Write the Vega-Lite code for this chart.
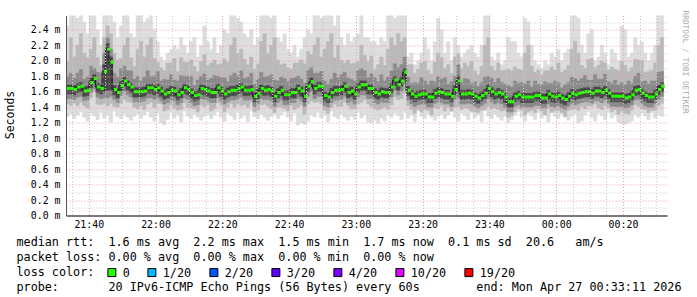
{
"$schema":"https://vega.github.io/schema/vega-lite/v6.json",
"width":601,"height":200,
"autosize":{"type":"none"},
"padding":{"left":66,"top":15.5,"right":30,"bottom":81.5},
"background":"#ffffff",
"config":{"view":{"stroke":null},"font":"DejaVu Sans Mono"},
"title":{"text":"RRDTOOL / TOBI OETIKER","orient":"right","anchor":"start","frame":"group","offset":4,"dx":-5,"dy":3.5,"font":"DejaVu Sans Mono","fontSize":7.8,"fontWeight":"normal","color":"#a8a8a8"},
"layer":[
{"data":{"name":"smoke","format":{"parse":{"t":"utc:'%d %H:%M'"}},"values":[
{"t":"26 21:33","m":1.64,"a":1.28,"A":2.45,"b":1.44,"B":1.99,"c":1.51,"C":1.8,"d":1.57,"D":1.69},
{"t":"26 21:34","m":1.64,"a":1.31,"A":2.6,"b":1.42,"B":2.3,"c":1.51,"C":1.84,"d":1.57,"D":1.69},
{"t":"26 21:35","m":1.63,"a":1.25,"A":2.6,"b":1.45,"B":2.05,"c":1.5,"C":1.77,"d":1.56,"D":1.68},
{"t":"26 21:36","m":1.66,"a":1.3,"A":2.55,"b":1.42,"B":2.2,"c":1.53,"C":1.84,"d":1.59,"D":1.71},
{"t":"26 21:37","m":1.67,"a":1.34,"A":2.6,"b":1.46,"B":2.35,"c":1.54,"C":1.89,"d":1.6,"D":1.72},
{"t":"26 21:38","m":1.61,"a":1.27,"A":2.5,"b":1.42,"B":2.1,"c":1.48,"C":1.76,"d":1.54,"D":1.66},
{"t":"26 21:39","m":1.62,"a":1.22,"A":2.35,"b":1.39,"B":2.04,"c":1.49,"C":1.79,"d":1.55,"D":1.67},
{"t":"26 21:40","m":1.72,"a":1.32,"A":2.6,"b":1.52,"B":2.15,"c":1.59,"C":1.93,"d":1.65,"D":1.77},
{"t":"26 21:41","m":1.77,"a":1.29,"A":2.6,"b":1.6,"B":2.3,"c":1.64,"C":1.9,"d":1.7,"D":1.82},
{"t":"26 21:42","m":1.66,"a":1.24,"A":2.4,"b":1.44,"B":2.04,"c":1.53,"C":1.85,"d":1.59,"D":1.71},
{"t":"26 21:43","m":1.64,"a":1.33,"A":2.2,"b":1.43,"B":1.94,"c":1.51,"C":1.84,"d":1.57,"D":1.69},
{"t":"26 21:44","m":1.86,"a":1.26,"A":2.6,"b":1.45,"B":2.3,"c":1.52,"C":2.1,"d":1.6,"D":1.95},
{"t":"26 21:45","m":2.15,"a":1.3,"A":2.6,"b":1.42,"B":2.45,"c":1.52,"C":2.3,"d":1.62,"D":2.22},
{"t":"26 21:46","m":1.98,"a":1.21,"A":2.6,"b":1.45,"B":2.35,"c":1.54,"C":2.15,"d":1.62,"D":2.05},
{"t":"26 21:47","m":1.63,"a":1.35,"A":2.5,"b":1.41,"B":2.1,"c":1.5,"C":1.84,"d":1.56,"D":1.68},
{"t":"26 21:48","m":1.59,"a":1.28,"A":2.3,"b":1.4,"B":2.01,"c":1.46,"C":1.79,"d":1.52,"D":1.64},
{"t":"26 21:49","m":1.68,"a":1.25,"A":2.45,"b":1.45,"B":2.03,"c":1.55,"C":1.9,"d":1.61,"D":1.73},
{"t":"26 21:50","m":1.74,"a":1.31,"A":2.6,"b":1.5,"B":2.2,"c":1.61,"C":1.93,"d":1.67,"D":1.79},
{"t":"26 21:51","m":1.69,"a":1.27,"A":2.6,"b":1.47,"B":2.3,"c":1.56,"C":1.87,"d":1.62,"D":1.74},
{"t":"26 21:52","m":1.66,"a":1.23,"A":2.35,"b":1.46,"B":2.04,"c":1.53,"C":1.87,"d":1.59,"D":1.71},
{"t":"26 21:53","m":1.6,"a":1.28,"A":2.3,"b":1.4,"B":1.93,"c":1.47,"C":1.76,"d":1.53,"D":1.65},
{"t":"26 21:54","m":1.6,"a":1.31,"A":2.6,"b":1.38,"B":2.15,"c":1.47,"C":1.8,"d":1.53,"D":1.65},
{"t":"26 21:55","m":1.6,"a":1.25,"A":2.6,"b":1.42,"B":2.25,"c":1.47,"C":1.74,"d":1.53,"D":1.65},
{"t":"26 21:56","m":1.61,"a":1.3,"A":2.5,"b":1.37,"B":2.05,"c":1.48,"C":1.79,"d":1.54,"D":1.66},
{"t":"26 21:57","m":1.65,"a":1.34,"A":2.55,"b":1.44,"B":2.2,"c":1.52,"C":1.87,"d":1.58,"D":1.7},
{"t":"26 21:58","m":1.65,"a":1.27,"A":2.6,"b":1.46,"B":2.3,"c":1.52,"C":1.8,"d":1.58,"D":1.7},
{"t":"26 21:59","m":1.63,"a":1.22,"A":2.4,"b":1.4,"B":2.03,"c":1.5,"C":1.8,"d":1.56,"D":1.68},
{"t":"26 22:00","m":1.65,"a":1.32,"A":2.25,"b":1.45,"B":1.98,"c":1.52,"C":1.86,"d":1.58,"D":1.7},
{"t":"26 22:01","m":1.61,"a":1.2,"A":2.05,"b":1.44,"B":1.91,"c":1.48,"C":1.74,"d":1.54,"D":1.66},
{"t":"26 22:02","m":1.57,"a":1.17,"A":2.0,"b":1.35,"B":1.87,"c":1.44,"C":1.76,"d":1.5,"D":1.62},
{"t":"26 22:03","m":1.59,"a":1.24,"A":2.1,"b":1.37,"B":1.97,"c":1.46,"C":1.75,"d":1.52,"D":1.64},
{"t":"26 22:04","m":1.62,"a":1.33,"A":2.15,"b":1.43,"B":1.97,"c":1.49,"C":1.82,"d":1.55,"D":1.67},
{"t":"26 22:05","m":1.61,"a":1.26,"A":2.2,"b":1.39,"B":2.03,"c":1.48,"C":1.75,"d":1.54,"D":1.66},
{"t":"26 22:06","m":1.56,"a":1.3,"A":2.15,"b":1.36,"B":1.86,"c":1.43,"C":1.74,"d":1.49,"D":1.61},
{"t":"26 22:07","m":1.59,"a":1.21,"A":2.3,"b":1.37,"B":2.04,"c":1.46,"C":1.81,"d":1.52,"D":1.64},
{"t":"26 22:08","m":1.65,"a":1.35,"A":2.2,"b":1.46,"B":1.98,"c":1.52,"C":1.8,"d":1.58,"D":1.7},
{"t":"26 22:09","m":1.63,"a":1.28,"A":2.1,"b":1.4,"B":1.98,"c":1.5,"C":1.8,"d":1.56,"D":1.68},
{"t":"26 22:10","m":1.59,"a":1.25,"A":2.25,"b":1.39,"B":2.01,"c":1.46,"C":1.8,"d":1.52,"D":1.64},
{"t":"26 22:11","m":1.55,"a":1.31,"A":2.3,"b":1.38,"B":1.93,"c":1.42,"C":1.68,"d":1.48,"D":1.6},
{"t":"26 22:12","m":1.56,"a":1.27,"A":2.05,"b":1.34,"B":1.86,"c":1.43,"C":1.75,"d":1.49,"D":1.61},
{"t":"26 22:13","m":1.64,"a":1.23,"A":2.2,"b":1.43,"B":1.99,"c":1.51,"C":1.8,"d":1.57,"D":1.69},
{"t":"26 22:14","m":1.63,"a":1.28,"A":2.45,"b":1.41,"B":2.08,"c":1.5,"C":1.83,"d":1.56,"D":1.68},
{"t":"26 22:15","m":1.61,"a":1.31,"A":2.25,"b":1.43,"B":1.94,"c":1.48,"C":1.75,"d":1.54,"D":1.66},
{"t":"26 22:16","m":1.59,"a":1.25,"A":2.15,"b":1.35,"B":1.97,"c":1.46,"C":1.77,"d":1.52,"D":1.64},
{"t":"26 22:17","m":1.59,"a":1.3,"A":2.3,"b":1.38,"B":2.01,"c":1.46,"C":1.81,"d":1.52,"D":1.64},
{"t":"26 22:18","m":1.65,"a":1.34,"A":2.1,"b":1.46,"B":1.95,"c":1.52,"C":1.8,"d":1.58,"D":1.7},
{"t":"26 22:19","m":1.61,"a":1.27,"A":2.2,"b":1.42,"B":1.96,"c":1.48,"C":1.78,"d":1.54,"D":1.66},
{"t":"26 22:20","m":1.57,"a":1.22,"A":2.4,"b":1.34,"B":2.02,"c":1.44,"C":1.78,"d":1.5,"D":1.62},
{"t":"26 22:21","m":1.6,"a":1.32,"A":2.35,"b":1.4,"B":1.98,"c":1.47,"C":1.73,"d":1.53,"D":1.65},
{"t":"26 22:22","m":1.62,"a":1.29,"A":2.6,"b":1.45,"B":2.2,"c":1.49,"C":1.81,"d":1.55,"D":1.67},
{"t":"26 22:23","m":1.62,"a":1.24,"A":2.6,"b":1.4,"B":2.3,"c":1.49,"C":1.84,"d":1.55,"D":1.67},
{"t":"26 22:24","m":1.64,"a":1.33,"A":2.55,"b":1.44,"B":2.1,"c":1.51,"C":1.8,"d":1.57,"D":1.69},
{"t":"26 22:25","m":1.66,"a":1.26,"A":2.5,"b":1.42,"B":2.15,"c":1.53,"C":1.87,"d":1.59,"D":1.71},
{"t":"26 22:26","m":1.62,"a":1.3,"A":2.35,"b":1.43,"B":2.02,"c":1.49,"C":1.77,"d":1.55,"D":1.67},
{"t":"26 22:27","m":1.62,"a":1.21,"A":2.3,"b":1.4,"B":1.95,"c":1.49,"C":1.79,"d":1.55,"D":1.67},
{"t":"26 22:28","m":1.63,"a":1.35,"A":2.4,"b":1.46,"B":2.05,"c":1.5,"C":1.84,"d":1.56,"D":1.68},
{"t":"26 22:29","m":1.54,"a":1.28,"A":2.2,"b":1.34,"B":1.89,"c":1.41,"C":1.7,"d":1.47,"D":1.59},
{"t":"26 22:30","m":1.58,"a":1.25,"A":2.3,"b":1.36,"B":1.96,"c":1.45,"C":1.76,"d":1.51,"D":1.63},
{"t":"26 22:31","m":1.64,"a":1.31,"A":2.6,"b":1.43,"B":2.25,"c":1.51,"C":1.85,"d":1.57,"D":1.69},
{"t":"26 22:32","m":1.62,"a":1.27,"A":2.6,"b":1.44,"B":2.35,"c":1.49,"C":1.79,"d":1.55,"D":1.67},
{"t":"26 22:33","m":1.63,"a":1.23,"A":2.6,"b":1.41,"B":2.1,"c":1.5,"C":1.8,"d":1.56,"D":1.68},
{"t":"26 22:34","m":1.61,"a":1.28,"A":2.55,"b":1.38,"B":2.2,"c":1.48,"C":1.82,"d":1.54,"D":1.66},
{"t":"26 22:35","m":1.54,"a":1.31,"A":2.6,"b":1.33,"B":2.3,"c":1.41,"C":1.75,"d":1.47,"D":1.59},
{"t":"26 22:36","m":1.59,"a":1.25,"A":2.3,"b":1.4,"B":2.01,"c":1.46,"C":1.74,"d":1.52,"D":1.64},
{"t":"26 22:37","m":1.62,"a":1.3,"A":2.25,"b":1.4,"B":1.95,"c":1.49,"C":1.79,"d":1.55,"D":1.67},
{"t":"26 22:38","m":1.56,"a":1.34,"A":2.35,"b":1.38,"B":1.96,"c":1.43,"C":1.77,"d":1.49,"D":1.61},
{"t":"26 22:39","m":1.56,"a":1.27,"A":2.15,"b":1.35,"B":1.91,"c":1.43,"C":1.73,"d":1.49,"D":1.61},
{"t":"26 22:40","m":1.59,"a":1.22,"A":2.1,"b":1.42,"B":1.89,"c":1.46,"C":1.77,"d":1.52,"D":1.64},
{"t":"26 22:41","m":1.59,"a":1.32,"A":2.2,"b":1.37,"B":1.97,"c":1.46,"C":1.78,"d":1.52,"D":1.64},
{"t":"26 22:42","m":1.64,"a":1.17,"A":2.05,"b":1.4,"B":1.97,"c":1.51,"C":1.8,"d":1.57,"D":1.69},
{"t":"26 22:43","m":1.61,"a":1.2,"A":2.15,"b":1.43,"B":2.01,"c":1.48,"C":1.76,"d":1.54,"D":1.66},
{"t":"26 22:44","m":1.54,"a":1.18,"A":2.3,"b":1.31,"B":1.96,"c":1.41,"C":1.71,"d":1.47,"D":1.59},
{"t":"26 22:45","m":1.67,"a":1.22,"A":2.4,"b":1.44,"B":2.12,"c":1.54,"C":1.88,"d":1.6,"D":1.72},
{"t":"26 22:46","m":1.73,"a":1.3,"A":2.35,"b":1.48,"B":2.08,"c":1.6,"C":1.91,"d":1.66,"D":1.78},
{"t":"26 22:47","m":1.64,"a":1.27,"A":2.6,"b":1.46,"B":2.2,"c":1.51,"C":1.84,"d":1.57,"D":1.69},
{"t":"26 22:48","m":1.67,"a":1.33,"A":2.6,"b":1.47,"B":2.3,"c":1.54,"C":1.84,"d":1.6,"D":1.72},
{"t":"26 22:49","m":1.67,"a":1.26,"A":2.55,"b":1.45,"B":2.05,"c":1.54,"C":1.86,"d":1.6,"D":1.72},
{"t":"26 22:50","m":1.55,"a":1.3,"A":2.6,"b":1.36,"B":2.15,"c":1.42,"C":1.74,"d":1.48,"D":1.6},
{"t":"26 22:51","m":1.53,"a":1.21,"A":2.6,"b":1.32,"B":2.25,"c":1.4,"C":1.7,"d":1.46,"D":1.58},
{"t":"26 22:52","m":1.59,"a":1.35,"A":2.6,"b":1.4,"B":2.35,"c":1.46,"C":1.76,"d":1.52,"D":1.64},
{"t":"26 22:53","m":1.62,"a":1.28,"A":2.45,"b":1.44,"B":2.04,"c":1.49,"C":1.84,"d":1.55,"D":1.67},
{"t":"26 22:54","m":1.62,"a":1.25,"A":2.6,"b":1.41,"B":2.2,"c":1.49,"C":1.78,"d":1.55,"D":1.67},
{"t":"26 22:55","m":1.63,"a":1.31,"A":2.3,"b":1.41,"B":2.01,"c":1.5,"C":1.82,"d":1.56,"D":1.68},
{"t":"26 22:56","m":1.67,"a":1.27,"A":2.2,"b":1.47,"B":1.97,"c":1.54,"C":1.85,"d":1.6,"D":1.72},
{"t":"26 22:57","m":1.59,"a":1.23,"A":2.35,"b":1.42,"B":2.01,"c":1.46,"C":1.78,"d":1.52,"D":1.64},
{"t":"26 22:58","m":1.61,"a":1.28,"A":2.25,"b":1.38,"B":1.96,"c":1.48,"C":1.76,"d":1.54,"D":1.66},
{"t":"26 22:59","m":1.57,"a":1.24,"A":2.3,"b":1.38,"B":1.97,"c":1.44,"C":1.74,"d":1.5,"D":1.62},
{"t":"26 23:00","m":1.66,"a":1.33,"A":2.35,"b":1.44,"B":1.99,"c":1.53,"C":1.87,"d":1.59,"D":1.71},
{"t":"26 23:01","m":1.69,"a":1.26,"A":2.6,"b":1.46,"B":2.2,"c":1.56,"C":1.9,"d":1.62,"D":1.74},
{"t":"26 23:02","m":1.69,"a":1.3,"A":2.3,"b":1.5,"B":2.07,"c":1.56,"C":1.87,"d":1.62,"D":1.74},
{"t":"26 23:03","m":1.64,"a":1.21,"A":2.3,"b":1.44,"B":1.99,"c":1.51,"C":1.78,"d":1.57,"D":1.69},
{"t":"26 23:04","m":1.64,"a":1.2,"A":2.25,"b":1.41,"B":2.06,"c":1.51,"C":1.83,"d":1.57,"D":1.69},
{"t":"26 23:05","m":1.59,"a":1.23,"A":2.25,"b":1.38,"B":1.89,"c":1.46,"C":1.78,"d":1.52,"D":1.64},
{"t":"26 23:06","m":1.57,"a":1.19,"A":2.2,"b":1.36,"B":1.95,"c":1.44,"C":1.73,"d":1.5,"D":1.62},
{"t":"26 23:07","m":1.6,"a":1.25,"A":2.3,"b":1.38,"B":2.05,"c":1.47,"C":1.82,"d":1.53,"D":1.65},
{"t":"26 23:08","m":1.59,"a":1.22,"A":2.25,"b":1.4,"B":1.94,"c":1.46,"C":1.74,"d":1.52,"D":1.64},
{"t":"26 23:09","m":1.59,"a":1.3,"A":2.6,"b":1.37,"B":2.15,"c":1.46,"C":1.79,"d":1.52,"D":1.64},
{"t":"26 23:10","m":1.66,"a":1.27,"A":2.6,"b":1.43,"B":2.3,"c":1.53,"C":1.87,"d":1.59,"D":1.71},
{"t":"26 23:11","m":1.75,"a":1.32,"A":2.55,"b":1.53,"B":2.2,"c":1.62,"C":1.96,"d":1.68,"D":1.8},
{"t":"26 23:12","m":1.69,"a":1.29,"A":2.6,"b":1.5,"B":2.35,"c":1.56,"C":1.91,"d":1.62,"D":1.74},
{"t":"26 23:13","m":1.74,"a":1.24,"A":2.6,"b":1.51,"B":2.25,"c":1.61,"C":1.95,"d":1.67,"D":1.79},
{"t":"26 23:14","m":1.85,"a":1.33,"A":2.6,"b":1.58,"B":2.3,"c":1.7,"C":2.05,"d":1.76,"D":1.9},
{"t":"26 23:15","m":1.62,"a":1.26,"A":2.05,"b":1.42,"B":1.95,"c":1.49,"C":1.79,"d":1.55,"D":1.67},
{"t":"26 23:16","m":1.57,"a":1.3,"A":2.1,"b":1.37,"B":1.95,"c":1.44,"C":1.71,"d":1.5,"D":1.62},
{"t":"26 23:17","m":1.54,"a":1.21,"A":1.95,"b":1.32,"B":1.84,"c":1.41,"C":1.72,"d":1.47,"D":1.59},
{"t":"26 23:18","m":1.56,"a":1.35,"A":2.0,"b":1.37,"B":1.89,"c":1.43,"C":1.71,"d":1.49,"D":1.61},
{"t":"26 23:19","m":1.57,"a":1.28,"A":2.1,"b":1.34,"B":1.97,"c":1.44,"C":1.78,"d":1.5,"D":1.62},
{"t":"26 23:20","m":1.57,"a":1.25,"A":2.3,"b":1.37,"B":1.99,"c":1.44,"C":1.74,"d":1.5,"D":1.62},
{"t":"26 23:21","m":1.53,"a":1.31,"A":2.15,"b":1.36,"B":1.88,"c":1.4,"C":1.7,"d":1.46,"D":1.58},
{"t":"26 23:22","m":1.53,"a":1.27,"A":2.0,"b":1.3,"B":1.83,"c":1.4,"C":1.74,"d":1.46,"D":1.58},
{"t":"26 23:23","m":1.58,"a":1.23,"A":2.25,"b":1.39,"B":1.98,"c":1.45,"C":1.73,"d":1.51,"D":1.63},
{"t":"26 23:24","m":1.6,"a":1.28,"A":2.55,"b":1.38,"B":2.1,"c":1.47,"C":1.8,"d":1.53,"D":1.65},
{"t":"26 23:25","m":1.59,"a":1.31,"A":2.4,"b":1.42,"B":2.04,"c":1.46,"C":1.76,"d":1.52,"D":1.64},
{"t":"26 23:26","m":1.57,"a":1.25,"A":2.1,"b":1.35,"B":1.9,"c":1.44,"C":1.78,"d":1.5,"D":1.62},
{"t":"26 23:27","m":1.57,"a":1.3,"A":2.25,"b":1.4,"B":1.95,"c":1.44,"C":1.7,"d":1.5,"D":1.62},
{"t":"26 23:28","m":1.54,"a":1.34,"A":2.0,"b":1.35,"B":1.84,"c":1.41,"C":1.73,"d":1.47,"D":1.59},
{"t":"26 23:29","m":1.63,"a":1.27,"A":2.3,"b":1.4,"B":2.05,"c":1.5,"C":1.8,"d":1.56,"D":1.68},
{"t":"26 23:30","m":1.74,"a":1.22,"A":2.2,"b":1.41,"B":2.09,"c":1.52,"C":1.95,"d":1.6,"D":1.8},
{"t":"26 23:31","m":1.57,"a":1.32,"A":2.05,"b":1.37,"B":1.9,"c":1.44,"C":1.72,"d":1.5,"D":1.62},
{"t":"26 23:32","m":1.57,"a":1.29,"A":2.1,"b":1.39,"B":1.97,"c":1.44,"C":1.77,"d":1.5,"D":1.62},
{"t":"26 23:33","m":1.58,"a":1.24,"A":2.15,"b":1.38,"B":1.93,"c":1.45,"C":1.76,"d":1.51,"D":1.63},
{"t":"26 23:34","m":1.57,"a":1.33,"A":2.2,"b":1.35,"B":1.99,"c":1.44,"C":1.71,"d":1.5,"D":1.62},
{"t":"26 23:35","m":1.54,"a":1.26,"A":2.1,"b":1.34,"B":1.87,"c":1.41,"C":1.73,"d":1.47,"D":1.59},
{"t":"26 23:36","m":1.52,"a":1.3,"A":2.05,"b":1.33,"B":1.82,"c":1.39,"C":1.67,"d":1.45,"D":1.57},
{"t":"26 23:37","m":1.55,"a":1.21,"A":2.2,"b":1.36,"B":1.93,"c":1.42,"C":1.72,"d":1.48,"D":1.6},
{"t":"26 23:38","m":1.58,"a":1.35,"A":2.6,"b":1.37,"B":2.2,"c":1.45,"C":1.79,"d":1.51,"D":1.63},
{"t":"26 23:39","m":1.64,"a":1.28,"A":2.6,"b":1.41,"B":2.3,"c":1.51,"C":1.8,"d":1.57,"D":1.69},
{"t":"26 23:40","m":1.6,"a":1.25,"A":2.05,"b":1.38,"B":1.93,"c":1.47,"C":1.77,"d":1.53,"D":1.65},
{"t":"26 23:41","m":1.57,"a":1.31,"A":2.0,"b":1.39,"B":1.87,"c":1.44,"C":1.72,"d":1.5,"D":1.62},
{"t":"26 23:42","m":1.59,"a":1.27,"A":2.1,"b":1.37,"B":1.97,"c":1.46,"C":1.77,"d":1.52,"D":1.64},
{"t":"26 23:43","m":1.57,"a":1.23,"A":1.95,"b":1.35,"B":1.87,"c":1.44,"C":1.72,"d":1.5,"D":1.62},
{"t":"26 23:44","m":1.53,"a":1.28,"A":2.0,"b":1.36,"B":1.88,"c":1.4,"C":1.7,"d":1.46,"D":1.58},
{"t":"26 23:45","m":1.47,"a":1.2,"A":2.3,"b":1.27,"B":1.89,"c":1.34,"C":1.68,"d":1.4,"D":1.52},
{"t":"26 23:46","m":1.47,"a":1.24,"A":2.25,"b":1.29,"B":1.87,"c":1.34,"C":1.66,"d":1.4,"D":1.52},
{"t":"26 23:47","m":1.54,"a":1.3,"A":2.25,"b":1.34,"B":1.92,"c":1.41,"C":1.74,"d":1.47,"D":1.59},
{"t":"26 23:48","m":1.56,"a":1.34,"A":2.1,"b":1.38,"B":1.89,"c":1.43,"C":1.71,"d":1.49,"D":1.61},
{"t":"26 23:49","m":1.53,"a":1.27,"A":2.05,"b":1.36,"B":1.88,"c":1.4,"C":1.72,"d":1.46,"D":1.58},
{"t":"26 23:50","m":1.53,"a":1.22,"A":2.55,"b":1.3,"B":2.1,"c":1.4,"C":1.7,"d":1.46,"D":1.58},
{"t":"26 23:51","m":1.53,"a":1.32,"A":2.5,"b":1.34,"B":2.2,"c":1.4,"C":1.74,"d":1.46,"D":1.58},
{"t":"26 23:52","m":1.53,"a":1.29,"A":2.2,"b":1.36,"B":1.93,"c":1.4,"C":1.66,"d":1.46,"D":1.58},
{"t":"26 23:53","m":1.55,"a":1.24,"A":2.0,"b":1.33,"B":1.85,"c":1.42,"C":1.74,"d":1.48,"D":1.6},
{"t":"26 23:54","m":1.55,"a":1.33,"A":1.95,"b":1.38,"B":1.88,"c":1.42,"C":1.7,"d":1.48,"D":1.6},
{"t":"26 23:55","m":1.52,"a":1.26,"A":1.9,"b":1.35,"B":1.82,"c":1.39,"C":1.69,"d":1.45,"D":1.57},
{"t":"26 23:56","m":1.52,"a":1.3,"A":2.0,"b":1.3,"B":1.87,"c":1.39,"C":1.73,"d":1.45,"D":1.57},
{"t":"26 23:57","m":1.57,"a":1.21,"A":1.95,"b":1.38,"B":1.87,"c":1.44,"C":1.71,"d":1.5,"D":1.62},
{"t":"26 23:58","m":1.54,"a":1.35,"A":2.1,"b":1.33,"B":1.92,"c":1.41,"C":1.71,"d":1.47,"D":1.59},
{"t":"26 23:59","m":1.53,"a":1.28,"A":2.05,"b":1.35,"B":1.88,"c":1.4,"C":1.74,"d":1.46,"D":1.58},
{"t":"27 00:00","m":1.55,"a":1.25,"A":2.15,"b":1.36,"B":1.97,"c":1.42,"C":1.72,"d":1.48,"D":1.6},
{"t":"27 00:01","m":1.52,"a":1.31,"A":2.0,"b":1.33,"B":1.85,"c":1.39,"C":1.65,"d":1.45,"D":1.57},
{"t":"27 00:02","m":1.5,"a":1.27,"A":2.1,"b":1.28,"B":1.88,"c":1.37,"C":1.69,"d":1.43,"D":1.55},
{"t":"27 00:03","m":1.54,"a":1.23,"A":2.15,"b":1.36,"B":1.94,"c":1.41,"C":1.72,"d":1.47,"D":1.59},
{"t":"27 00:04","m":1.58,"a":1.28,"A":2.6,"b":1.37,"B":2.15,"c":1.45,"C":1.79,"d":1.51,"D":1.63},
{"t":"27 00:05","m":1.56,"a":1.31,"A":2.6,"b":1.38,"B":2.25,"c":1.43,"C":1.77,"d":1.49,"D":1.61},
{"t":"27 00:06","m":1.58,"a":1.2,"A":2.55,"b":1.36,"B":2.1,"c":1.45,"C":1.74,"d":1.51,"D":1.63},
{"t":"27 00:07","m":1.59,"a":1.22,"A":2.2,"b":1.41,"B":1.94,"c":1.46,"C":1.77,"d":1.52,"D":1.64},
{"t":"27 00:08","m":1.6,"a":1.3,"A":2.1,"b":1.38,"B":1.9,"c":1.47,"C":1.81,"d":1.53,"D":1.65},
{"t":"27 00:09","m":1.6,"a":1.34,"A":2.35,"b":1.42,"B":2.02,"c":1.47,"C":1.75,"d":1.53,"D":1.65},
{"t":"27 00:10","m":1.58,"a":1.27,"A":2.4,"b":1.41,"B":2.03,"c":1.45,"C":1.75,"d":1.51,"D":1.63},
{"t":"27 00:11","m":1.61,"a":1.22,"A":2.0,"b":1.44,"B":1.91,"c":1.48,"C":1.82,"d":1.54,"D":1.66},
{"t":"27 00:12","m":1.61,"a":1.32,"A":2.05,"b":1.39,"B":1.94,"c":1.48,"C":1.76,"d":1.54,"D":1.66},
{"t":"27 00:13","m":1.59,"a":1.29,"A":2.2,"b":1.37,"B":1.99,"c":1.46,"C":1.76,"d":1.52,"D":1.64},
{"t":"27 00:14","m":1.62,"a":1.24,"A":2.1,"b":1.42,"B":1.97,"c":1.49,"C":1.83,"d":1.55,"D":1.67},
{"t":"27 00:15","m":1.58,"a":1.33,"A":1.95,"b":1.39,"B":1.88,"c":1.45,"C":1.73,"d":1.51,"D":1.63},
{"t":"27 00:16","m":1.54,"a":1.26,"A":2.15,"b":1.34,"B":1.92,"c":1.41,"C":1.71,"d":1.47,"D":1.59},
{"t":"27 00:17","m":1.54,"a":1.3,"A":2.1,"b":1.37,"B":1.89,"c":1.41,"C":1.75,"d":1.47,"D":1.59},
{"t":"27 00:18","m":1.54,"a":1.21,"A":2.0,"b":1.31,"B":1.87,"c":1.41,"C":1.69,"d":1.47,"D":1.59},
{"t":"27 00:19","m":1.54,"a":1.19,"A":2.45,"b":1.35,"B":1.99,"c":1.41,"C":1.72,"d":1.47,"D":1.59},
{"t":"27 00:20","m":1.52,"a":1.18,"A":2.4,"b":1.32,"B":1.94,"c":1.39,"C":1.69,"d":1.45,"D":1.57},
{"t":"27 00:21","m":1.53,"a":1.2,"A":2.05,"b":1.31,"B":1.86,"c":1.4,"C":1.74,"d":1.46,"D":1.58},
{"t":"27 00:22","m":1.56,"a":1.22,"A":2.1,"b":1.36,"B":1.91,"c":1.43,"C":1.71,"d":1.49,"D":1.61},
{"t":"27 00:23","m":1.62,"a":1.3,"A":2.3,"b":1.43,"B":2.02,"c":1.49,"C":1.8,"d":1.55,"D":1.67},
{"t":"27 00:24","m":1.63,"a":1.27,"A":2.2,"b":1.41,"B":2.01,"c":1.5,"C":1.84,"d":1.56,"D":1.68},
{"t":"27 00:25","m":1.58,"a":1.32,"A":2.25,"b":1.38,"B":2.0,"c":1.45,"C":1.73,"d":1.51,"D":1.63},
{"t":"27 00:26","m":1.55,"a":1.29,"A":2.1,"b":1.37,"B":1.85,"c":1.42,"C":1.74,"d":1.48,"D":1.6},
{"t":"27 00:27","m":1.53,"a":1.24,"A":2.0,"b":1.33,"B":1.86,"c":1.4,"C":1.7,"d":1.46,"D":1.58},
{"t":"27 00:28","m":1.53,"a":1.33,"A":2.1,"b":1.36,"B":1.88,"c":1.4,"C":1.74,"d":1.46,"D":1.58},
{"t":"27 00:29","m":1.57,"a":1.26,"A":2.2,"b":1.36,"B":1.97,"c":1.44,"C":1.74,"d":1.5,"D":1.62},
{"t":"27 00:30","m":1.63,"a":1.3,"A":2.6,"b":1.42,"B":2.2,"c":1.5,"C":1.85,"d":1.56,"D":1.68},
{"t":"27 00:31","m":1.67,"a":1.28,"A":2.6,"b":1.45,"B":2.3,"c":1.54,"C":1.86,"d":1.6,"D":1.72}
]},
"encoding":{"x":{"field":"t","type":"temporal","timeUnit":"utcyearmonthdatehoursminutes",
 "scale":{"domain":[{"year":1900,"month":1,"date":26,"hours":21,"minutes":33,"seconds":11,"utc":true},{"year":1900,"month":1,"date":27,"hours":0,"minutes":33,"seconds":11,"utc":true}]},
 "axis":{"tickCount":36,
  "labelExpr":"utcminutes(datum.value) % 20 == 0 ? utcFormat(datum.value, '%H:%M') : ''",
  "labelOverlap":false,"labelFlush":false,"labelFont":"DejaVu Sans Mono","labelFontSize":9.9,"labelColor":"#000000","labelPadding":4,"ticks":false,
  "domainColor":"#000000","domainWidth":1,
  "grid":true,"gridDash":[1,2],"gridWidth":1,
  "gridColor":{"condition":{"test":"utcminutes(datum.value) % 20 == 0","value":"#e8a0a0"},"value":"#c8c8c8"},
  "zindex":1,
  "title":["median rtt:\u00a0\u00a01.6 ms avg\u00a0\u00a02.2 ms max\u00a0\u00a01.5 ms min\u00a0\u00a01.7 ms now\u00a0\u00a00.1 ms sd\u00a0\u00a020.6\u00a0\u00a0\u00a0am/s","packet loss: 0.00 % avg\u00a0\u00a00.00 % max\u00a0\u00a00.00 % min\u00a0\u00a00.00 % now","loss color:","probe:\u00a0\u00a0\u00a0\u00a0\u00a0\u00a0\u00a020 IPv6-ICMP Echo Pings (56 Bytes) every 60s\u00a0\u00a0\u00a0\u00a0\u00a0\u00a0\u00a0\u00a0end: Mon Apr 27 00:33:11 2026"],
  "titleX":-50,"titleY":29.8,"titleAlign":"left","titleAnchor":"start","titleBaseline":"alphabetic","titleFont":"DejaVu Sans Mono","titleFontSize":11.75,"titleFontWeight":"normal","titleColor":"#000000","titleLineHeight":15}},
 "y":{"field":"a","type":"quantitative","scale":{"domain":[0,2.585]},
   "axis":{"values":[0,0.1,0.2,0.3,0.4,0.5,0.6,0.7,0.8,0.9,1.0,1.1,1.2,1.3,1.4,1.5,1.6,1.7,1.8,1.9,2.0,2.1,2.2,2.3,2.4,2.5],
    "labelExpr":"round(datum.value*10) % 2 == 0 ? format(datum.value, '.1f') + ' m' : ''",
    "labelOverlap":false,"labelFont":"DejaVu Sans Mono","labelFontSize":9.9,"labelColor":"#000000","labelPadding":6,"ticks":false,
    "domainColor":"#555555","grid":true,"gridDash":[1,2],"gridWidth":1,
    "gridColor":{"condition":{"test":"round(datum.value*10) % 2 == 0","value":"#e8a0a0"},"value":"#c8c8c8"},
    "zindex":1,
    "title":"Seconds","titleFont":"DejaVu Sans Mono","titleFontSize":11.5,"titleFontWeight":"normal","titleColor":"#000000","titleX":-56,"titleY":99,"titleAngle":-90,"titleAlign":"center","titleBaseline":"middle"}}},
"layer":[
 {"mark":{"type":"bar","color":"#dddddd","stroke":"#dddddd","strokeWidth":0.5,"binSpacing":0,"clip":true},
  "encoding":{"y2":{"field":"A"}}},
 {"mark":{"type":"bar","color":"#b9b9b9","stroke":"#b9b9b9","strokeWidth":0.5,"binSpacing":0,"clip":true},
  "encoding":{"y":{"field":"b","type":"quantitative"},"y2":{"field":"B"}}},
 {"mark":{"type":"bar","color":"#8a8a8a","stroke":"#8a8a8a","strokeWidth":0.5,"binSpacing":0,"clip":true},
  "encoding":{"y":{"field":"c","type":"quantitative"},"y2":{"field":"C"}}},
 {"mark":{"type":"bar","color":"#484848","stroke":"#484848","strokeWidth":0.5,"binSpacing":0,"clip":true},
  "encoding":{"y":{"field":"d","type":"quantitative"},"y2":{"field":"D"}}},
 {"mark":{"type":"line","interpolate":"step-after","color":"#202020","strokeWidth":1,"clip":true},
  "encoding":{"y":{"field":"m","type":"quantitative"}}},
 {"mark":{"type":"tick","orient":"horizontal","size":3.4,"thickness":3,"opacity":1,"color":"#26ff00","xOffset":1.67,"clip":true},
  "encoding":{"y":{"field":"m","type":"quantitative"}}}
]},
{"data":{"values":[{"k":"0"},{"k":"1/20"},{"k":"2/20"},{"k":"3/20"},{"k":"4/20"},{"k":"10/20"},{"k":"19/20"}]},
 "mark":{"type":"square","size":0,"opacity":1,"stroke":"#000000","strokeWidth":1},
 "encoding":{"color":{"field":"k","type":"nominal","sort":null,
   "scale":{"domain":["0","1/20","2/20","3/20","4/20","10/20","19/20"],"range":["#26ff00","#00b8ff","#0059ff","#5e00ff","#7e00ff","#dd00ff","#ff0000"]},
   "legend":{"orient":"none","legendX":40,"legendY":251,"direction":"horizontal","title":null,"symbolType":"square","symbolSize":64,"symbolStrokeColor":"#000000","symbolStrokeWidth":1,"symbolOpacity":1,"labelFont":"DejaVu Sans Mono","labelFontSize":11.75,"labelColor":"#000000","labelOffset":5,"columnPadding":15,"padding":0}}}}
]
}
